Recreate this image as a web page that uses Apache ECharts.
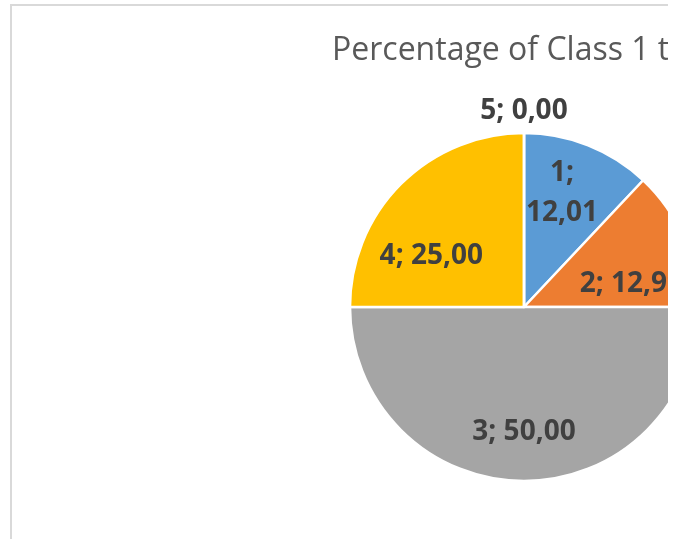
<!DOCTYPE html>
<html>
<head>
<meta charset="utf-8">
<title>Percentage of Class</title>
<script src="https://cdn.jsdelivr.net/npm/echarts@6/dist/echarts.min.js"></script>
<style>
    html, body { margin: 0; padding: 0; background: #fff; }
    #clip { position: absolute; left: 0; top: 0; width: 668px; height: 539px; overflow: hidden; }
    #frame { position: absolute; left: 10px; top: 4px; width: 800px; height: 600px;
             border-left: 2px solid #d9d9d9; border-top: 2px solid #d9d9d9; }
    #main { position: absolute; left: 0; top: 0; width: 900px; height: 539px; }
</style>
</head>
<body>
<div id="clip">
    <div id="frame"></div>
    <div id="main"></div>
</div>
<script>
    // data
    var classes = ['1', '2', '3', '4', '5'];
    var percents = [12.01, 12.99, 50.00, 25.00, 0.00];
    var colors = ['#5B9BD5', '#ED7D31', '#A5A5A5', '#FFC000', '#4472C4'];
    // small nudges so the inside labels sit where excel's "best fit" put them
    var labelNudge = [[-5, -5], [0, 23], [0, 8], [-10, 32], [0, 0]];

    function fmt(p) {
        var v = p.value.toFixed(2).replace('.', ',');
        // the first label wraps onto two lines in the original
        return p.dataIndex === 0 ? p.name + ';\n' + v : p.name + '; ' + v;
    }

    var labelStyle = {
        color: '#404040',
        fontFamily: 'Open Sans',
        fontWeight: 'bold',
        fontSize: 28,
        formatter: fmt
    };

    // visible pie: only the zero slice gets its label (outside, above the pie)
    var pieData = classes.map(function (c, i) {
        return {
            name: c,
            value: percents[i],
            itemStyle: { color: colors[i] },
            label: { show: percents[i] === 0 }
        };
    });

    // transparent, larger pie that only carries the inside labels
    var labelData = classes.map(function (c, i) {
        return {
            name: c,
            value: percents[i],
            label: { show: percents[i] !== 0, offset: labelNudge[i] }
        };
    });

    var chart = echarts.init(document.getElementById('main'));
    var option = {
        animation: false,
        title: {
            text: 'Percentage of Class 1 to 5',
            left: 332,
            top: 35,
            padding: 0,
            textStyle: {
                color: '#595959',
                fontFamily: 'Open Sans',
                fontWeight: 'normal',
                fontSize: 32
            }
        },
        series: [
            {
                type: 'pie',
                center: [524, 307],
                radius: 174,
                avoidLabelOverlap: false,
                itemStyle: { borderColor: '#fff', borderWidth: 2.5 },
                label: Object.assign({ position: 'outside' }, labelStyle),
                labelLine: { show: false, length: 22, length2: 0 },
                labelLayout: function (params) {
                    // centre the zero-slice label over its (zero width) sector
                    var sx = params.rect.x + params.rect.width / 2;
                    var lx = params.labelRect.x + params.labelRect.width / 2;
                    return { dx: sx - lx };
                },
                emphasis: { disabled: true },
                data: pieData
            },
            {
                type: 'pie',
                center: [524, 307],
                radius: [0, 228],
                silent: true,
                itemStyle: { color: 'rgba(0,0,0,0)' },
                label: Object.assign({ position: 'inside', lineHeight: 40 }, labelStyle),
                labelLine: { show: false },
                emphasis: { disabled: true },
                data: labelData
            }
        ]
    };
    chart.setOption(option);
</script>
</body>
</html>
